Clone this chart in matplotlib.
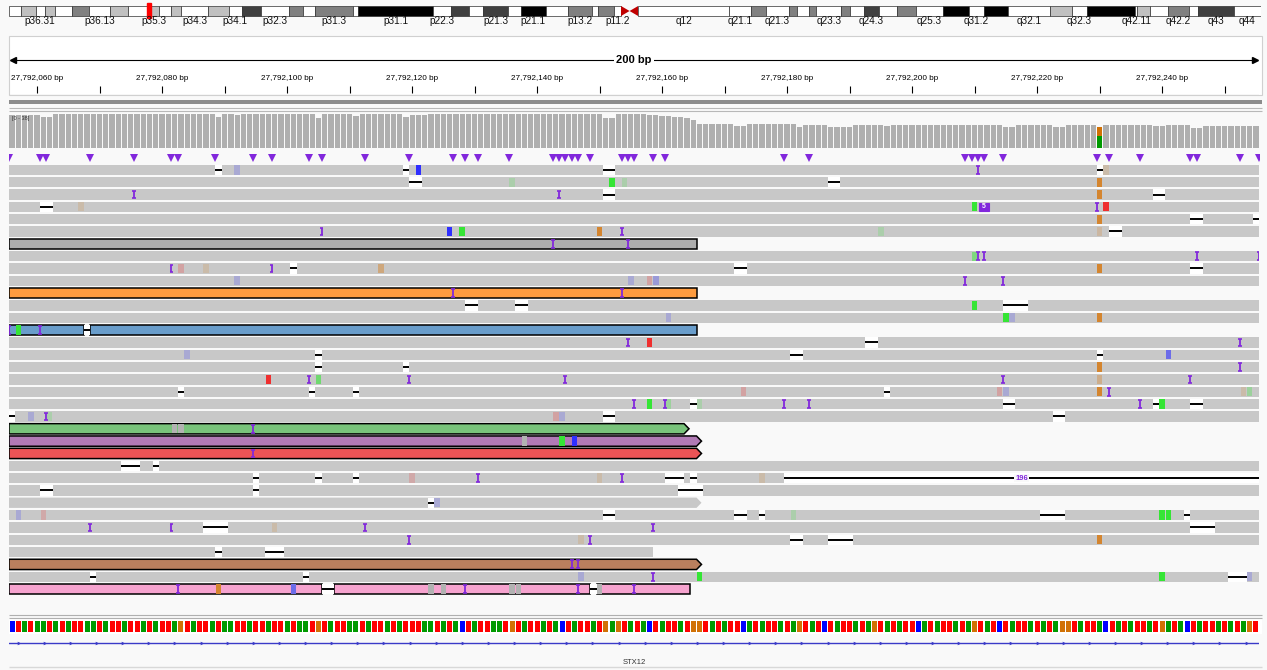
import numpy as np
import matplotlib
matplotlib.use("Agg")
import matplotlib.pyplot as plt
from matplotlib.patches import Rectangle, Polygon
from matplotlib.colors import to_rgb

plt.rcParams['font.family'] = ['Liberation Sans', 'DejaVu Sans']

# ---------------- data ----------------
CHR_OFFSET = 27792000          # positions below are offsets from this
view_start, view_end = 55.5, 255.5

# chr1 ideogram (Mb)
band_names = ['p36.33', 'p36.32', 'p36.31', 'p36.23', 'p36.22', 'p36.21', 'p36.13', 'p36.12', 'p36.11',
              'p35.3', 'p35.2', 'p35.1', 'p34.3', 'p34.2', 'p34.1', 'p33', 'p32.3', 'p32.2', 'p32.1',
              'p31.3', 'p31.2', 'p31.1', 'p22.3', 'p22.2', 'p22.1', 'p21.3', 'p21.2', 'p21.1',
              'p13.3', 'p13.2', 'p13.1', 'p12', 'p11.2', 'p11.1', 'q11', 'q12', 'q21.1', 'q21.2',
              'q21.3', 'q22', 'q23.1', 'q23.2', 'q23.3', 'q24.1', 'q24.2', 'q24.3', 'q25.1', 'q25.2',
              'q25.3', 'q31.1', 'q31.2', 'q31.3', 'q32.1', 'q32.2', 'q32.3', 'q41', 'q42.11', 'q42.12',
              'q42.13', 'q42.2', 'q42.3', 'q43', 'q44']
band_starts = [0, 2.3, 5.3, 7.1, 9.1, 12.5, 15.9, 20.1, 23.6,
               27.6, 29.9, 32.3, 34.3, 39.6, 43.7, 46.3, 50.2, 55.6, 58.5,
               60.8, 68.5, 69.3, 84.4, 87.9, 91.5, 94.3, 99.3, 101.8,
               106.7, 111.2, 115.9, 117.2, 120.4, 121.7, 123.4, 125.1, 143.2, 147.5,
               150.6, 155.1, 156.6, 159.1, 160.5, 165.5, 167.2, 170.1, 172.9, 176.5,
               180.3, 185.8, 190.8, 193.8, 198.7, 207.1, 211.3, 214.4, 223.9, 224.4,
               226.8, 230.5, 234.6, 236.4, 243.5]
band_stains = ['gneg', 'gpos25', 'gneg', 'gpos25', 'gneg', 'gpos50', 'gneg', 'gpos25', 'gneg',
               'gpos25', 'gneg', 'gpos25', 'gneg', 'gpos25', 'gneg', 'gpos75', 'gneg', 'gpos50', 'gneg',
               'gpos50', 'gneg', 'gpos100', 'gneg', 'gpos75', 'gneg', 'gpos75', 'gneg', 'gpos100',
               'gneg', 'gpos50', 'gneg', 'gpos50', 'gneg', 'acen', 'acen', 'gvar', 'gneg', 'gpos50',
               'gneg', 'gpos50', 'gneg', 'gpos50', 'gneg', 'gpos50', 'gneg', 'gpos75', 'gneg', 'gpos50',
               'gneg', 'gpos100', 'gneg', 'gpos100', 'gneg', 'gpos25', 'gneg', 'gpos100', 'gneg', 'gpos25',
               'gneg', 'gpos50', 'gneg', 'gpos75', 'gneg']
chr_len = 248.96
shown_labels = ['p36.31', 'p36.13', 'p35.3', 'p34.3', 'p34.1', 'p32.3', 'p31.3', 'p31.1', 'p22.3',
                'p21.3', 'p21.1', 'p13.2', 'p11.2', 'q12', 'q21.1', 'q21.3', 'q23.3', 'q24.3', 'q25.3',
                'q31.2', 'q32.1', 'q32.3', 'q42.11', 'q42.2', 'q43', 'q44']

# coverage as runs (first, last, depth)
cov_runs = [(56, 60, 37), (61, 62, 35), (63, 88, 38), (89, 89, 35), (90, 91, 38), (92, 92, 37),
            (93, 104, 38), (105, 105, 34), (106, 110, 38), (111, 111, 36), (112, 118, 38),
            (119, 119, 35), (120, 122, 37), (123, 150, 38), (151, 152, 33), (153, 157, 38),
            (158, 159, 37), (160, 161, 36), (162, 163, 35), (164, 164, 33), (165, 165, 31),
            (166, 171, 27), (172, 173, 25), (174, 181, 27), (182, 182, 24), (183, 186, 26),
            (187, 190, 24), (191, 195, 26), (196, 196, 25), (197, 214, 26), (215, 216, 24),
            (217, 222, 26), (223, 224, 24), (225, 229, 26), (230, 230, 24), (231, 238, 26),
            (239, 240, 25), (241, 244, 26), (245, 246, 22), (247, 255, 25)]
cov_max = 38
var_pos = 230
var_counts = [('A', 13), ('G', 11)]

# insertion sites row (triangles)
ins_sites = [55.5, 60.5, 61.5, 68.5, 75.5, 81.5, 82.5, 88.5, 94.5, 97.5, 103.5, 105.5, 112.5,
             119.5, 126.5, 128.5, 130.5, 135.5, 142.5, 143.5, 144.5, 145.5, 146.5, 148.5,
             153.5, 154.5, 155.5, 158.5, 160.5, 179.5, 183.5, 208.5, 209.5, 210.5, 211.5,
             214.5, 229.5, 231.5, 236.5, 244.5, 245.5, 252.5, 255.5]

ref_seq = ("CTATAATATA" "TTAATATTAT" "TATATTAGTA" "TTATAATTAT" "TATTATAATG"
           "TATTAATATT" "ATATTTAATA" "TACTATTAAT" "GTATTATACT" "ATTATGAGTA"
           "TACTATTATG" "GTATATTCAT" "ATTATAGTAT" "CTATTATAGT" "ATATTCATAT"
           "TATAGTATCT" "ATTATATAGG" "TATTACTATA" "TTATGATACT" "ATTATATAGT")

# reads: (row, first, last)
gray_reads = [(0, 56, 255), (1, 56, 255), (2, 56, 255), (3, 56, 255), (4, 56, 255), (5, 56, 255),
              (7, 56, 255), (8, 56, 255), (9, 56, 255), (11, 56, 255), (12, 56, 255), (14, 56, 255),
              (15, 56, 255), (16, 56, 255), (17, 56, 255), (18, 56, 255), (19, 56, 255), (20, 56, 255),
              (24, 56, 255), (25, 56, 375), (26, 56, 255), (27, 56, 165), (28, 56, 255), (29, 56, 255),
              (30, 56, 255), (31, 56, 158), (33, 56, 255)]
arrow_rows = [27]

# linked reads: (row, blocks, colour, arrow at end)
linked_reads = [(6, [(56, 165)], '#adadad', False),
                (10, [(56, 165)], '#fd9b3f', False),
                (13, [(56, 67), (69, 165)], '#699dcb', False),
                (21, [(56, 163)], '#79c37b', True),
                (22, [(56, 165)], '#b17ab5', True),
                (23, [(56, 165)], '#eb5456', True),
                (32, [(56, 165)], '#ba7f5e', True),
                (34, [(56, 105), (108, 148), (150, 164)], '#f6a3cf', False)]

deletions = [(0, 89, 89), (0, 119, 119), (0, 151, 152), (0, 230, 230),
             (1, 120, 121), (1, 187, 188),
             (2, 151, 152), (2, 239, 240),
             (3, 61, 62),
             (4, 245, 246), (4, 255, 255),
             (5, 232, 233),
             (8, 101, 101), (8, 172, 173), (8, 245, 246),
             (11, 129, 130), (11, 137, 138), (11, 215, 218),
             (14, 193, 194),
             (15, 105, 105), (15, 181, 182), (15, 230, 230),
             (16, 105, 105), (16, 119, 119),
             (18, 83, 83), (18, 104, 104), (18, 111, 111), (18, 196, 196),
             (19, 165, 165), (19, 215, 216), (19, 239, 239), (19, 245, 246),
             (20, 56, 56), (20, 151, 152), (20, 223, 224),
             (24, 74, 76), (24, 79, 79),
             (25, 95, 95), (25, 105, 105), (25, 111, 111), (25, 161, 163), (25, 165, 165), (25, 180, 375),
             (26, 61, 62), (26, 95, 95), (26, 163, 166),
             (27, 123, 123),
             (28, 151, 152), (28, 172, 173), (28, 176, 176), (28, 221, 224), (28, 244, 244),
             (29, 87, 90), (29, 245, 248),
             (30, 181, 182), (30, 187, 190),
             (31, 89, 89), (31, 97, 99),
             (33, 69, 69), (33, 103, 103), (33, 251, 253)]

# mismatches: (row, pos, base, quality weight)
mismatches = [(0, 92, 'C', .2), (0, 121, 'C', 1), (0, 231, 'G', .2),
              (1, 136, 'A', .2), (1, 152, 'A', 1), (1, 154, 'A', .2), (1, 230, 'G', 1),
              (2, 230, 'G', 1),
              (3, 67, 'G', .2), (3, 210, 'A', 1), (3, 231, 'T', 1),
              (4, 230, 'G', 1),
              (5, 126, 'C', 1), (5, 128, 'A', 1), (5, 150, 'G', 1), (5, 195, 'A', .2), (5, 230, 'G', .25),
              (7, 210, 'A', .5),
              (8, 83, 'T', .25), (8, 87, 'G', .2), (8, 115, 'G', .5), (8, 230, 'G', 1),
              (9, 92, 'C', .2), (9, 155, 'C', .2), (9, 158, 'T', .25), (9, 159, 'C', .3),
              (11, 210, 'A', 1),
              (12, 161, 'C', .2), (12, 215, 'A', 1), (12, 216, 'C', .2), (12, 230, 'G', 1),
              (13, 57, 'A', 1),
              (14, 158, 'T', 1),
              (15, 84, 'C', .2), (15, 241, 'C', .6),
              (16, 230, 'G', 1),
              (17, 97, 'T', 1), (17, 105, 'A', .6), (17, 230, 'G', .4),
              (18, 173, 'T', .25), (18, 214, 'T', .25), (18, 215, 'C', .2), (18, 230, 'G', 1),
              (18, 253, 'G', .2), (18, 254, 'A', .3),
              (19, 158, 'A', 1), (19, 161, 'A', .3), (19, 166, 'A', .2), (19, 240, 'A', 1),
              (20, 59, 'C', .2), (20, 62, 'A', .2), (20, 143, 'T', .25), (20, 144, 'C', .2),
              (21, 82, 'N', .5), (21, 83, 'N', .5),
              (22, 138, 'N', .5), (22, 144, 'A', 1), (22, 146, 'C', 1),
              (25, 120, 'T', .2), (25, 150, 'G', .2), (25, 176, 'G', .2),
              (27, 124, 'C', .2),
              (28, 57, 'C', .2), (28, 61, 'T', .2), (28, 181, 'A', .2), (28, 240, 'A', 1), (28, 241, 'A', 1),
              (29, 98, 'G', .2),
              (30, 147, 'G', .2), (30, 230, 'G', 1),
              (33, 147, 'C', .2), (33, 166, 'A', 1), (33, 240, 'A', 1), (33, 254, 'C', .2),
              (34, 89, 'G', 1), (34, 101, 'C', .6), (34, 123, 'N', .5), (34, 125, 'N', .5),
              (34, 136, 'N', .5), (34, 137, 'N', .5), (34, 150, 'N', .5)]

# insertions inside reads: (row, position between bases)
insertions = [(0, 210.5), (2, 75.5), (2, 143.5), (3, 229.5), (5, 105.5), (5, 153.5),
              (6, 142.5), (6, 154.5), (7, 210.5), (7, 211.5), (7, 245.5), (7, 255.5),
              (8, 81.5), (8, 97.5), (9, 208.5), (9, 214.5), (10, 126.5), (10, 153.5),
              (13, 55.5), (13, 60.5), (14, 154.5), (14, 252.5), (16, 252.5),
              (17, 103.5), (17, 119.5), (17, 144.5), (17, 214.5), (17, 244.5), (18, 231.5),
              (19, 155.5), (19, 160.5), (19, 179.5), (19, 183.5), (19, 236.5), (20, 61.5),
              (21, 94.5), (23, 94.5), (25, 130.5), (25, 153.5), (29, 68.5), (29, 81.5),
              (29, 112.5), (29, 158.5), (30, 119.5), (30, 148.5), (32, 145.5), (32, 146.5),
              (33, 158.5), (34, 82.5), (34, 128.5), (34, 146.5), (34, 155.5)]
big_insertions = [(3, 211.5, 5)]
gene_name = 'STX12'

# ---------------- style ----------------
W, H = 1267, 670
BG = '#f9f9f9'
READ_GRAY = '#c8c8c8'
PURPLE = '#8228dc'
N_ROWS = 35
ROW_H = 0.835
seq_colors = {'A': '#009a00', 'C': '#0000ff', 'G': '#d17105', 'T': '#ff0000'}
mm_colors = {'A': '#35e535', 'C': '#2f2fff', 'G': '#d4852f', 'T': '#ef2f2f', 'N': '#9c9c9c'}
stain_colors = {'gneg': '#ffffff', 'gpos25': '#c0c0c0', 'gpos50': '#808080', 'gpos75': '#404040',
                'gpos100': '#000000', 'gvar': '#ffffff', 'acen': '#c00000'}


def blend(c, w):
    a, g = np.array(to_rgb(c)), np.array(to_rgb(READ_GRAY))
    return tuple(w * a + (1 - w) * g)


def panel(x0, y0, x1, y1):
    ax = fig.add_axes([x0 / W, 1 - y1 / H, (x1 - x0) / W, (y1 - y0) / H])
    ax.set_axis_off()
    return ax


fig = plt.figure(figsize=(W / 100, H / 100), dpi=100, facecolor=BG)

# background frame (panel borders / separators)
frame = panel(0, 0, W, H)
frame.set_xlim(0, W)
frame.set_ylim(H, 0)
frame.add_patch(Rectangle((9, 36), 1253, 59, facecolor='white', edgecolor='#d0d0d0', lw=0.8))
frame.add_patch(Rectangle((9, 99.5), 1253, 4, facecolor='#8c8c8c', edgecolor='none'))
frame.hlines([108, 111], 9, 1262, color='#b8b8b8', lw=0.8)
frame.hlines([615, 617.5], 9, 1262, color='#b0b0b0', lw=0.8)
frame.add_patch(Rectangle((9, 619), 1253, 15, facecolor='white', edgecolor='none'))
frame.hlines(667, 9, 1262, color='#d8d8d8', lw=1.0)

# ---- ideogram ----
ax = panel(9, 0, 1261, 30)
ax.set_xlim(0, chr_len)
ax.set_ylim(30, 0)
band_ends = band_starts[1:] + [chr_len]
for name, s, e, st in zip(band_names, band_starts, band_ends, band_stains):
    if st == 'acen':
        if name.startswith('p'):
            pts = [(s, 6), (e, 11), (s, 16)]
        else:
            pts = [(e, 6), (s, 11), (e, 16)]
        ax.add_patch(Polygon(pts, closed=True, facecolor=stain_colors[st], edgecolor='none'))
    else:
        ax.add_patch(Rectangle((s, 6), e - s, 10, facecolor=stain_colors[st],
                               edgecolor='#303030', lw=0.5))
    if name in shown_labels:
        ax.text((s + e) / 2, 21, name, ha='center', va='center', fontsize=7.2, color='#111111')
locus_mb = (CHR_OFFSET + view_start) / 1e6
ax.add_patch(Rectangle((locus_mb - 0.4, 3), 0.8, 15, facecolor='red', edgecolor='red', lw=1))

# ---- ruler ----
ax = panel(9, 36, 1259, 95)
ax.set_xlim(view_start, view_end)
ax.set_ylim(59, 0)
mid = (view_start + view_end) / 2
span = int(view_end - view_start)
ax.plot([view_start + 0.3, view_end - 0.3], [24, 24], color='black', lw=0.8)
ax.plot([view_start + 0.6], [24], marker='<', ms=4, color='black')
ax.plot([view_end - 0.6], [24], marker='>', ms=4, color='black')
ax.text(mid, 24, f'{span} bp', ha='center', va='center', fontsize=8, fontweight='bold',
        bbox=dict(facecolor='white', edgecolor='none', pad=2))
ticks = np.arange(60, view_end, 10)
ax.vlines(ticks, 50, 57, color='black', lw=0.8)
for t in ticks[::2]:
    ax.text(t, 42, f'{CHR_OFFSET + int(t):,} bp', ha='center', va='center', fontsize=5.9)
ax.hlines(58.5, view_start, view_end, color='#9a9a9a', lw=0.8)

# ---- coverage ----
ax = panel(9, 114, 1259, 148)
ax.set_xlim(view_start, view_end)
ax.set_ylim(0, cov_max)
cov_pos, cov_val = [], []
for a, b, v in cov_runs:
    for p in range(a, b + 1):
        cov_pos.append(p)
        cov_val.append(v)
cov_pos, cov_val = np.array(cov_pos), np.array(cov_val)
plain = cov_pos != var_pos
ax.bar(cov_pos[plain], cov_val[plain], width=0.84, color='#afafaf', linewidth=0)
bottom = 0
for base, n in var_counts:
    ax.bar([var_pos], [n], bottom=bottom, width=0.84, color=seq_colors[base], linewidth=0)
    bottom += n
ax.text(0.002, 0.86, f'[0 - {cov_max}]', transform=ax.transAxes, fontsize=4, color='#333333',
        va='center')

# ---- insertion markers ----
ax = panel(9, 151, 1259, 165)
ax.set_xlim(view_start, view_end)
ax.set_ylim(0, 1)
ax.plot(ins_sites, [0.5] * len(ins_sites), linestyle='none', marker='v', ms=6.2,
        color=PURPLE, markeredgewidth=0)

# ---- alignments ----
ax = panel(9, 164.7, 1259, 164.7 + N_ROWS * 12.33)
ax.set_xlim(view_start, view_end)
ax.set_ylim(N_ROWS, 0)


def read_shape(row, s, e, arrow, tip=0.8):
    x0, x1 = s - 0.5, e + 0.5
    y0, y1 = row, row + ROW_H
    if arrow:
        return [(x0, y0), (x1, y0), (x1 + tip, (y0 + y1) / 2), (x1, y1), (x0, y1)]
    return [(x0, y0), (x1, y0), (x1, y1), (x0, y1)]


def gap_line(row, x0, x1, white=True):
    if white:
        ax.add_patch(Rectangle((x0, row), x1 - x0, ROW_H, facecolor='white', edgecolor='none', zorder=3))
    ax.plot([x0, x1], [row + ROW_H / 2] * 2, color='black', lw=1.4, zorder=4, solid_capstyle='butt')


for row, s, e in gray_reads:
    ax.add_patch(Polygon(read_shape(row, s, e, row in arrow_rows), closed=True,
                         facecolor=READ_GRAY, edgecolor='none', zorder=1))

for row, blocks, col, arrow in linked_reads:
    for i, (s, e) in enumerate(blocks):
        last = i == len(blocks) - 1
        ax.add_patch(Polygon(read_shape(row, s, e, arrow and last), closed=True,
                             facecolor=col, edgecolor='black', lw=1.1, zorder=2))
        if not last:
            gap_line(row, e + 0.5, blocks[i + 1][0] - 0.5)

for row, pos, base, w in mismatches:
    ax.add_patch(Rectangle((pos - 0.45, row + 0.04), 0.9, ROW_H - 0.08,
                           facecolor=blend(mm_colors[base], w), edgecolor='none', zorder=3))

for row, s, e in deletions:
    gap_line(row, s - 0.5, e + 0.5)
    n = e - s + 1
    if n >= 50:
        lo, hi = max(s - 0.5, view_start), min(e + 0.5, view_end)
        ax.text((lo + hi) / 2, row + ROW_H / 2, str(n), ha='center', va='center', fontsize=5.5,
                fontweight='bold', color=PURPLE, zorder=6,
                bbox=dict(facecolor=BG, edgecolor='none', pad=0.6))

for row, x in insertions:
    y0, y1 = row + 0.1, row + ROW_H - 0.1
    ax.vlines(x, y0, y1, color=PURPLE, lw=1.3, zorder=5)
    ax.hlines([y0, y1], x - 0.32, x + 0.32, color=PURPLE, lw=1.2, zorder=5)

for row, x, n in big_insertions:
    ax.add_patch(Rectangle((x - 0.8, row + 0.08), 1.6, ROW_H - 0.16, facecolor=PURPLE,
                           edgecolor=PURPLE, lw=0.8, zorder=5))
    ax.text(x, row + ROW_H / 2, str(n), ha='center', va='center', fontsize=5, color='white',
            fontweight='bold', zorder=6)

# ---- reference sequence ----
ax = panel(9, 612, 1259, 636)
ax.set_xlim(view_start, view_end)
ax.set_ylim(24, 0)
seq_pos = np.arange(len(ref_seq)) + 56
ax.bar(seq_pos, 11, bottom=9, width=0.82, color=[seq_colors[b] for b in ref_seq], linewidth=0)

# ---- gene track ----
ax = panel(9, 636, 1259, 670)
ax.set_xlim(view_start, view_end)
ax.set_ylim(34, 0)
ax.plot([view_start, view_end], [7, 7], color='#3a3ac8', lw=1.0)
chev = np.arange(view_start + 1.55, view_end, 4.18)
ax.plot(chev, [7] * len(chev), linestyle='none', marker='>', ms=2.6, color='#3a3ac8',
        markeredgewidth=0)
ax.text(mid, 26, gene_name, ha='center', va='center', fontsize=5.5, color='#333333')

fig.savefig('out.png', dpi=100, facecolor=fig.get_facecolor())
